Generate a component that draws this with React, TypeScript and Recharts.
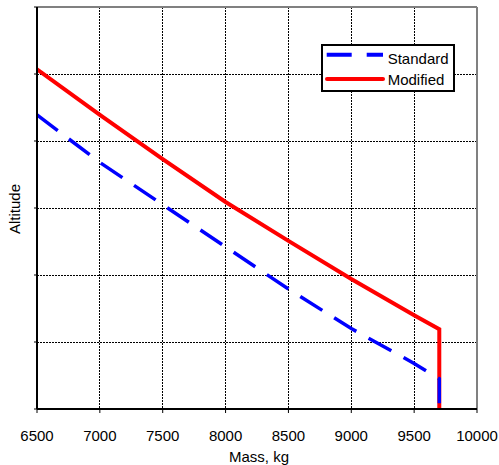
import React from 'react';
import { LineChart, Line, XAxis, YAxis, CartesianGrid, ReferenceLine, Legend, Label } from 'recharts';

const massTicks = [6500, 7000, 7500, 8000, 8500, 9000, 9500, 10000];
const altitudeTicks = [0, 1, 2, 3, 4, 5, 6];

const standardMass = [6500, 7000, 7500, 8000, 8500, 9000, 9500, 9700, 9700];
const standardAltitude = [4.39, 3.68, 3.05, 2.42, 1.79, 1.2, 0.68, 0.45, 0];

const modifiedMass = [6500, 7000, 7500, 8000, 8500, 9000, 9500, 9700, 9700];
const modifiedAltitude = [5.07, 4.39, 3.73, 3.09, 2.51, 1.94, 1.4, 1.19, 0];

const seriesNames = ['Standard', 'Modified'];

const standardData = standardMass.map((m, i) => ({ mass: m, alt: standardAltitude[i] }));
const modifiedData = modifiedMass.map((m, i) => ({ mass: m, alt: modifiedAltitude[i] }));

const FONT = '"Liberation Sans", Arial, sans-serif';

const renderLegend = () => (
  <div
    style={{
      width: 134,
      height: 48,
      boxSizing: 'border-box',
      border: '2px solid #000',
      background: '#fff',
      position: 'relative',
    }}
  >
    <svg width={130} height={44} style={{ position: 'absolute', left: 0, top: 0 }}>
      <line x1={3.7} y1={8.7} x2={60} y2={8.7} stroke="#0000FF" strokeWidth={4} strokeDasharray="25 15" />
      <text x={64.7} y={18} fontFamily={FONT} fontSize={15} fill="#000">{seriesNames[0]}</text>
      <line x1={4} y1={33} x2={60} y2={33} stroke="#FF0000" strokeWidth={4} strokeLinecap="round" />
      <text x={64.7} y={38.7} fontFamily={FONT} fontSize={15} fill="#000">{seriesNames[1]}</text>
    </svg>
  </div>
);

export default function App() {
  return (
    <div style={{ position: 'absolute', left: 0, top: 0 }}>
      <LineChart width={499} height={465} margin={{ top: 7, right: 22, bottom: 0, left: 0 }}>
        <CartesianGrid stroke="#000" strokeDasharray="2 1" strokeWidth={1} shapeRendering="crispEdges" />
        <XAxis
          type="number"
          dataKey="mass"
          domain={[6500, 10000]}
          ticks={massTicks}
          allowDataOverflow
          height={56}
          tickSize={4}
          tickMargin={17}
          axisLine={{ stroke: '#000', strokeWidth: 2 }}
          tickLine={{ stroke: '#000', strokeWidth: 1 }}
          tick={{ fill: '#000', fontSize: 15, fontFamily: FONT }}
          interval={0}
        >
          <Label
            content={() => (
              <text x={259} y={462} textAnchor="middle" fontFamily={FONT} fontSize={15} fill="#000">
                Mass, kg
              </text>
            )}
          />
        </XAxis>
        <YAxis
          type="number"
          domain={[0, 6]}
          ticks={altitudeTicks}
          width={37}
          tickSize={3}
          tickFormatter={() => ''}
          axisLine={{ stroke: '#000', strokeWidth: 2 }}
          tickLine={{ stroke: '#000', strokeWidth: 1 }}
        >
          <Label
            content={() => (
              <text
                x={20}
                y={209}
                transform="rotate(-90, 20, 209)"
                textAnchor="middle"
                fontFamily={FONT}
                fontSize={15}
                fill="#000"
              >
                Altitude
              </text>
            )}
          />
        </YAxis>
        <ReferenceLine y={6} stroke="#808080" strokeWidth={2} />
        <ReferenceLine x={10000} stroke="#808080" strokeWidth={2} />
        <Line
          data={modifiedData}
          dataKey="alt"
          name={seriesNames[1]}
          type="linear"
          stroke="#FF0000"
          strokeWidth={4}
          dot={false}
          activeDot={false}
          isAnimationActive={false}
        />
        <Line
          data={standardData}
          dataKey="alt"
          name={seriesNames[0]}
          type="linear"
          stroke="#0000FF"
          strokeWidth={3.5}
          strokeDasharray="26 14"
          dot={false}
          activeDot={false}
          isAnimationActive={false}
        />
        <Legend
          layout="vertical"
          align="center"
          verticalAlign="middle"
          wrapperStyle={{ left: 321, top: 44, width: 134, height: 48 }}
          content={renderLegend}
        />
      </LineChart>
    </div>
  );
}
